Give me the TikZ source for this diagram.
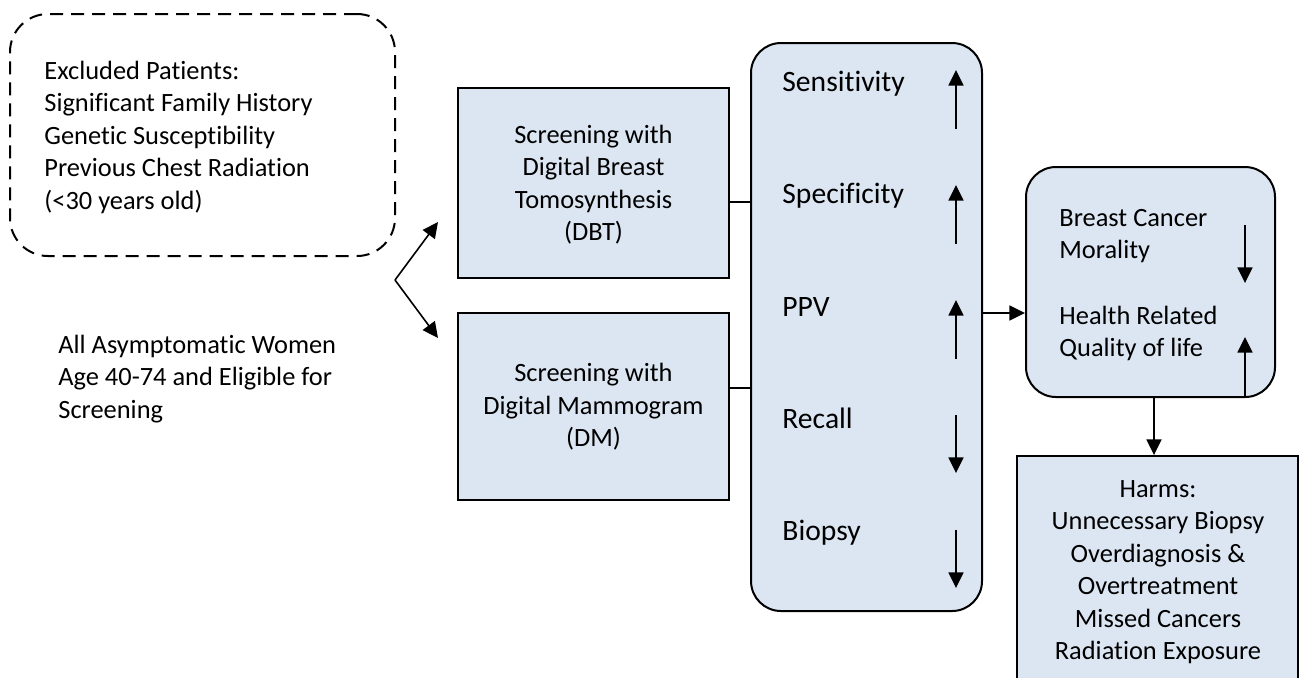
\documentclass[tikz,border=0pt]{standalone}
\usepackage{fontspec}
\setmainfont{Carlito}[Ligatures=NoCommon]
\usetikzlibrary{arrows.meta}
\definecolor{boxfill}{HTML}{DCE6F2}
\begin{document}
\begin{tikzpicture}[x=0.5pt,y=-0.5pt,
  box/.style={draw=black, line width=1pt, fill=boxfill, inner sep=0pt},
  dashbox/.style={draw=black, line width=1pt, dash pattern=on 6.5pt off 4pt, rounded corners=19pt, inner sep=0pt},
  roundbox/.style={box, rounded corners=15pt},
  txt/.style={font=\fontsize{13.2}{16.25}\selectfont, inner sep=0pt},
  lbl/.style={font=\fontsize{14.8}{18}\selectfont, inner sep=0pt, anchor=base west},
  arr/.style={line width=0.8pt, -{Triangle[length=7.8pt,width=7.5pt]}},
  conn/.style={line width=0.8pt}]
\useasboundingbox (0,0) rectangle (1299,677);

% boxes
\node[dashbox, minimum width=192.5pt, minimum height=121pt] (excl) at (202.5,135) {};
\node[box, minimum width=135.5pt, minimum height=95pt] (dbt) at (593.5,183) {};
\node[box, minimum width=135.5pt, minimum height=93.5pt] (dm) at (593.5,406.5) {};
\node[roundbox, minimum width=115.5pt, minimum height=284pt] (big) at (866.5,327) {};
\node[roundbox, minimum width=124.5pt, minimum height=115pt] (out) at (1150.5,282) {};
\node[box, minimum width=140.5pt, minimum height=132pt] (harms) at (1157.5,588) {};

% texts (base anchor = baseline of the last line)
\node[txt, anchor=base west, align=left] (exctxt) at (44,209) {Excluded Patients:\\Significant Family History\\Genetic Susceptibility\\Previous Chest Radiation\\(<30 years old)};
\node[txt, anchor=base west, align=left] (all) at (58,418) {All Asymptomatic Women\\Age 40-74 and Eligible for\\Screening};
\node[txt, anchor=base, align=center] (dbttxt) at (593.5,240.5) {Screening with\\Digital Breast\\Tomosynthesis\\(DBT)};
\node[txt, anchor=base, align=center] (dmtxt) at (593.5,446.5) {Screening with\\Digital Mammogram\\(DM)};
\node[lbl] (sens) at (782,91.7) {Sensitivity};
\node[lbl] (spec) at (782,203.5) {Specificity};
\node[lbl] (ppv) at (782,316) {PPV};
\node[lbl] (rec) at (782,428.3) {Recall};
\node[lbl] (bio) at (782,540) {Biopsy};
\node[txt, anchor=base west, align=left] (mort) at (1059,258.5) {Breast Cancer\\Morality};
\node[txt, anchor=base west, align=left] (hrql) at (1059,356.7) {Health Related\\Quality of life};
\node[txt, anchor=base, align=center] (harmstxt) at (1158,659.8) {Harms:\\Unnecessary Biopsy\\Overdiagnosis \&\\Overtreatment\\Missed Cancers\\Radiation Exposure};

% coordinates
\coordinate (split) at (395,280);
\coordinate (tipA) at (438,222);
\coordinate (tipB) at (438,338);
\coordinate (s1) at (956,129); \coordinate (s2) at (956,70);
\coordinate (p1) at (956,244); \coordinate (p2) at (956,185);
\coordinate (v1) at (956,359); \coordinate (v2) at (956,300);
\coordinate (r1) at (956,415); \coordinate (r2) at (956,473);
\coordinate (b1) at (956,530); \coordinate (b2) at (956,588);
\coordinate (m1) at (1245,225); \coordinate (m2) at (1245,283);
\coordinate (q2) at (1245,337);

% connectors
\draw[arr] (split) -- (tipA);
\draw[arr] (split) -- (tipB);
\draw[conn] ([yshift=-9.5pt]dbt.east) -- ([yshift=-9.5pt]dbt.east -| big.west);
\draw[conn] ([yshift=9.25pt]dm.east) -- ([yshift=9.25pt]dm.east -| big.west);
\draw[arr] ([yshift=7pt]big.east) -- ([yshift=7pt]big.east -| out.west);
\draw[arr] ([xshift=1.75pt]out.south) -- ([xshift=1.75pt]out.south |- harms.north);
\draw[arr] (q2 |- out.south) -- (q2);
\draw[arr] (s1) -- (s2);
\draw[arr] (p1) -- (p2);
\draw[arr] (v1) -- (v2);
\draw[arr] (r1) -- (r2);
\draw[arr] (b1) -- (b2);
\draw[arr] (m1) -- (m2);
\end{tikzpicture}
\end{document}
